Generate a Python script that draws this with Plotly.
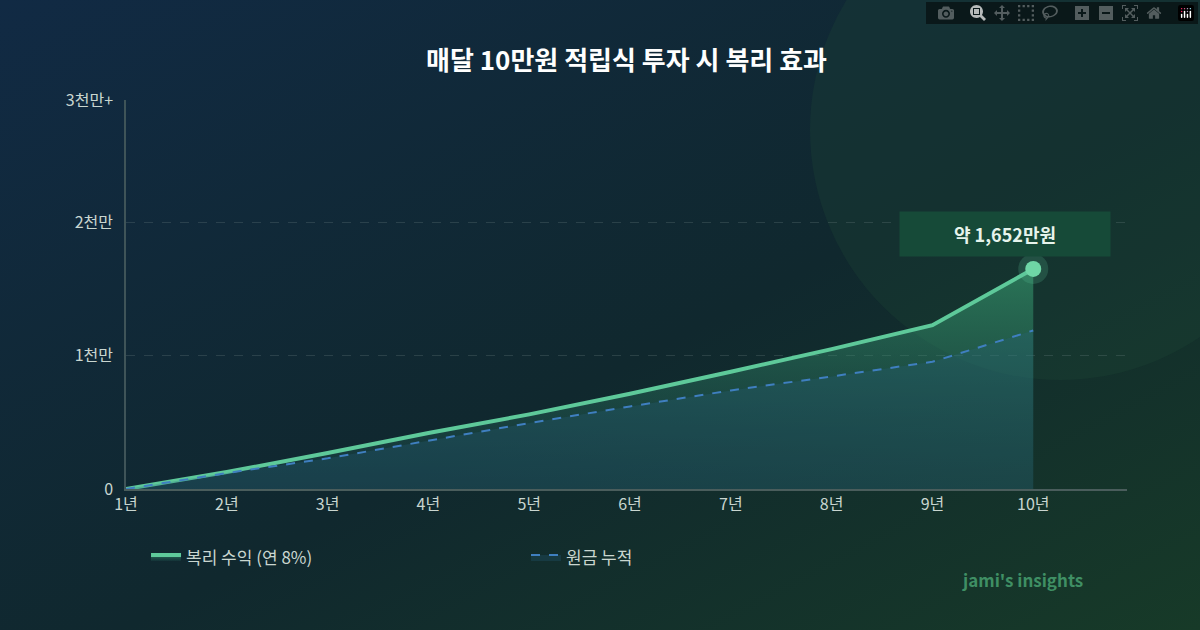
import plotly.graph_objects as go
import base64

years = [1, 2, 3, 4, 5, 6, 7, 8, 9, 10]
year_labels = ["1년", "2년", "3년", "4년", "5년", "6년", "7년", "8년", "9년", "10년"]
compound = [0, 127, 270, 420, 560, 715, 880, 1050, 1230, 1652]   # 만원
principal = [0, 120, 230, 365, 495, 620, 740, 845, 955, 1190]    # 만원
y_ticks = [0, 1000, 2000, 2920]
y_tick_labels = ["0", "1천만", "2천만", "3천만+"]

FONT = "Noto Sans CJK KR"

bg_svg = """<svg xmlns='http://www.w3.org/2000/svg' width='1200' height='630'>
<defs><linearGradient id='g' x1='0' y1='0' x2='1' y2='1'>
<stop offset='0' stop-color='#112a44'/><stop offset='0.55' stop-color='#10282e'/>
<stop offset='1' stop-color='#173a28'/></linearGradient></defs>
<rect width='1200' height='630' fill='url(#g)'/>
<circle cx='1060' cy='130' r='250' fill='#1e4a38' fill-opacity='0.25'/>
</svg>"""
bg_uri = "data:image/svg+xml;base64," + base64.b64encode(bg_svg.encode()).decode()

fig = go.Figure()

fig.add_trace(go.Scatter(
    x=years, y=compound, mode="lines", name="복리 수익 (연 8%)",
    line=dict(color="#5ec99a", width=4), fill="tozeroy",
    fillgradient=dict(type="vertical", colorscale=[[0, "rgba(40,110,100,0.15)"], [1, "rgba(60,170,120,0.55)"]]),
))
fig.add_trace(go.Scatter(
    x=years, y=principal, mode="lines", name="원금 누적",
    line=dict(color="#3f7fc0", width=2, dash="dash"), fill="tozeroy",
    fillcolor="rgba(40,100,130,0.25)",
))
# end point halo + marker
fig.add_trace(go.Scatter(
    x=[years[-1]], y=[compound[-1]], mode="markers", showlegend=False, hoverinfo="skip",
    marker=dict(size=30, color="rgba(94,201,154,0.2)"),
))
fig.add_trace(go.Scatter(
    x=[years[-1]], y=[compound[-1]], mode="markers", showlegend=False,
    marker=dict(size=16, color="#6fd6a6"),
))

fig.add_annotation(
    x=9.72, y=1915, text="<b>약 1,652만원</b>", showarrow=False,
    font=dict(size=18, color="#e6f4ec", family=FONT),
    bgcolor="#164a38", borderpad=10, width=190, height=24,
)
fig.add_annotation(
    xref="paper", yref="paper", x=0.5, y=1, yshift=62, text="<b>매달 10만원 적립식 투자 시 복리 효과</b>",
    showarrow=False, font=dict(size=26, color="#ffffff", family=FONT),
)
fig.add_annotation(
    xref="paper", yref="paper", x=0.958, y=-0.27, xanchor="right", text="<b>jami's insights</b>",
    showarrow=False, font=dict(size=17, color="#3f8f64", family=FONT),
)

fig.update_layout(
    width=1200, height=630,
    margin=dict(l=126, r=73, t=100, b=141),
    paper_bgcolor="rgba(0,0,0,0)", plot_bgcolor="rgba(0,0,0,0)",
    images=[dict(source=bg_uri, xref="paper", yref="paper", x=-126 / 1001, y=1 + 100 / 389,
                 sizex=1200 / 1001, sizey=630 / 389, sizing="stretch", layer="below", xanchor="left", yanchor="top")],
    font=dict(family=FONT, color="#c9d6d0", size=15),
    showlegend=True,
    legend=dict(orientation="h", x=0.02, y=-0.13, xanchor="left", yanchor="top",
                entrywidth=335, entrywidthmode="pixels", font=dict(size=17, color="#c9d6d0"),
                bgcolor="rgba(0,0,0,0)"),
    xaxis=dict(range=[1, 10.93], tickmode="array", tickvals=years, ticktext=year_labels,
               showgrid=False, zeroline=False, showline=True, linecolor="#4a5d5c", linewidth=1.5,
               ticks="", tickfont=dict(size=16, color="#c9d6d0")),
    yaxis=dict(range=[0, 2920], tickmode="array", tickvals=y_ticks, ticktext=y_tick_labels,
               showgrid=True, gridcolor="rgba(120,140,140,0.25)", griddash="dash",
               zeroline=False, showline=True, linecolor="#3f5458", linewidth=1.5,
               ticks="", ticklabelstandoff=8, tickfont=dict(size=16, color="#c9d6d0")),
)

fig.write_html("out.html", post_script="document.body.style.margin='0';")
